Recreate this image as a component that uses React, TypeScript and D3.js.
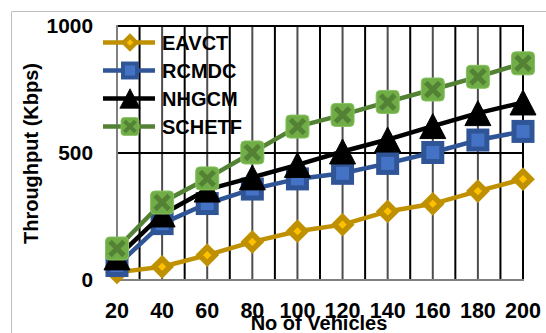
import React from 'react';
import * as d3 from 'd3';

// Number of vehicles on the x axis
const vehicles = [20, 40, 60, 80, 100, 120, 140, 160, 180, 200];
// Throughput (Kbps) per scheme
const eavct = [30, 52, 98, 150, 192, 218, 270, 300, 350, 397];
const rcmdc = [57, 222, 301, 358, 398, 420, 459, 502, 551, 585];
const nhgcm = [89, 258, 356, 404, 453, 506, 553, 606, 657, 699];
const schetf = [124, 305, 400, 502, 604, 650, 701, 750, 800, 853];
const seriesNames = ['EAVCT', 'RCMDC', 'NHGCM', 'SCHETF'];
const yTicks = [0, 500, 1000];

type MarkerKind = 'diamond' | 'square' | 'triangle' | 'cross';

const series: { name: string; values: number[]; line: string; marker: MarkerKind }[] = [
  { name: seriesNames[0], values: eavct, line: '#BF9000', marker: 'diamond' },
  { name: seriesNames[1], values: rcmdc, line: '#2F5597', marker: 'square' },
  { name: seriesNames[2], values: nhgcm, line: '#000000', marker: 'triangle' },
  { name: seriesNames[3], values: schetf, line: '#548235', marker: 'cross' },
];

const FONT = '"Liberation Sans", Arial, sans-serif';

function Marker({ kind, cx, cy, s }: { kind: MarkerKind; cx: number; cy: number; s: number }) {
  const t = `translate(${cx},${cy}) scale(${s})`;
  if (kind === 'diamond') {
    return (
      <path transform={t} d="M0,-8L8,0L0,8L-8,0Z" fill="#FFC000" stroke="#BF9000" strokeWidth={5.5} strokeLinejoin="miter" />
    );
  }
  if (kind === 'square') {
    return <rect transform={t} x={-9} y={-9} width={18} height={18} fill="#4472C4" stroke="#2F5597" strokeWidth={5} />;
  }
  if (kind === 'triangle') {
    return <path transform={t} d="M0,-12.5L13,12.5L-13,12.5Z" fill="#000" stroke="#000" strokeWidth={1} />;
  }
  return (
    <g transform={t}>
      <rect x={-11.5} y={-11.5} width={23} height={23} rx={4} fill="#70AD47" stroke="#86C25F" strokeWidth={1} />
      <path d="M-7,-7L7,7M7,-7L-7,7" stroke="#548235" strokeWidth={5} strokeLinecap="butt" />
    </g>
  );
}

export default function App() {
  const W = 546;
  const H = 333;
  const x = d3.scalePoint<number>().domain(vehicles).range([117, 523]);
  const y = d3.scaleLinear().domain([0, 1000]).range([280, 26]);
  const xs = (v: number) => x(v) as number;
  const mids = d3.pairs(vehicles).map(([a, b]) => (xs(a) + xs(b)) / 2);
  const line = d3
    .line<number>()
    .x((_, i) => xs(vehicles[i]))
    .y((d) => y(d));

  const [x0, x1] = x.range();
  const [yb, yt] = y.range();

  return (
    <svg width={W} height={H} style={{ position: 'absolute', left: 0, top: 0, background: '#fff' }}>
      {/* chart frame */}
      <path d={`M11.5,${H}L11.5,11.5L${W},11.5`} fill="none" stroke="#BFBFBF" strokeWidth={1} />

      {/* gridlines */}
      {mids.map((m, i) => (
        <line key={'m' + i} x1={m} x2={m} y1={yt} y2={yb} stroke="#000" strokeWidth={2} />
      ))}
      {vehicles.slice(1).map((v) => (
        <line key={'c' + v} x1={xs(v)} x2={xs(v)} y1={yt} y2={yb} stroke="#4D4D4D" strokeWidth={2} />
      ))}
      {yTicks.filter((t) => t > 0).map((t) => (
        <line key={'h' + t} x1={x0 - 1} x2={x1 + 1} y1={y(t)} y2={y(t)} stroke="#000" strokeWidth={2} />
      ))}
      <line x1={x1} x2={x1} y1={yt} y2={yb} stroke="#000" strokeWidth={2} />
      {/* axes */}
      <line x1={x0} x2={x0} y1={yt - 1} y2={yb + 1} stroke="#808080" strokeWidth={2} />
      <line x1={x0} x2={x1 + 1} y1={yb} y2={yb} stroke="#808080" strokeWidth={2} />

      {/* series */}
      {series.map((s) => (
        <g key={s.name}>
          <path d={line(s.values) || ''} fill="none" stroke={s.line} strokeWidth={4.5} strokeLinejoin="round" />
          {s.values.map((v, i) => (
            <Marker key={i} kind={s.marker} cx={xs(vehicles[i])} cy={y(v)} s={1} />
          ))}
        </g>
      ))}

      {/* legend */}
      {series.map((s, i) => {
        const ly = 42.5 + i * 28;
        return (
          <g key={'lg' + s.name}>
            <line x1={103} x2={155} y1={ly} y2={ly} stroke={s.line} strokeWidth={4.5} />
            <Marker kind={s.marker} cx={130} cy={ly} s={0.78} />
            <text x={162} y={ly + 7.5} fontFamily={FONT} fontWeight="bold" fontSize={20} fill="#000">
              {s.name}
            </text>
          </g>
        );
      })}

      {/* y tick labels */}
      {yTicks.map((t) => (
        <text
          key={'yt' + t}
          transform={`translate(93,${y(t) + 7}) scale(1.07,1)`}
          textAnchor="end"
          fontFamily={FONT}
          fontWeight="bold"
          fontSize={19.5}
          fill="#000"
        >
          {t}
        </text>
      ))}

      {/* x tick labels */}
      {vehicles.map((v) => (
        <text
          key={'xt' + v}
          transform={`translate(${xs(v)},318)`}
          textAnchor="middle"
          fontFamily={FONT}
          fontWeight="bold"
          fontSize={21.5}
          fill="#000"
        >
          {v}
        </text>
      ))}

      {/* axis titles */}
      <text
        transform="translate(38,153.5) rotate(-90)"
        textAnchor="middle"
        fontFamily={FONT}
        fontWeight="bold"
        fontSize={20}
        fill="#000"
      >
        Throughput (Kbps)
      </text>
      <text x={319} y={330} textAnchor="middle" fontFamily={FONT} fontWeight="bold" fontSize={20} fill="#000">
        No of Vehicles
      </text>
    </svg>
  );
}
